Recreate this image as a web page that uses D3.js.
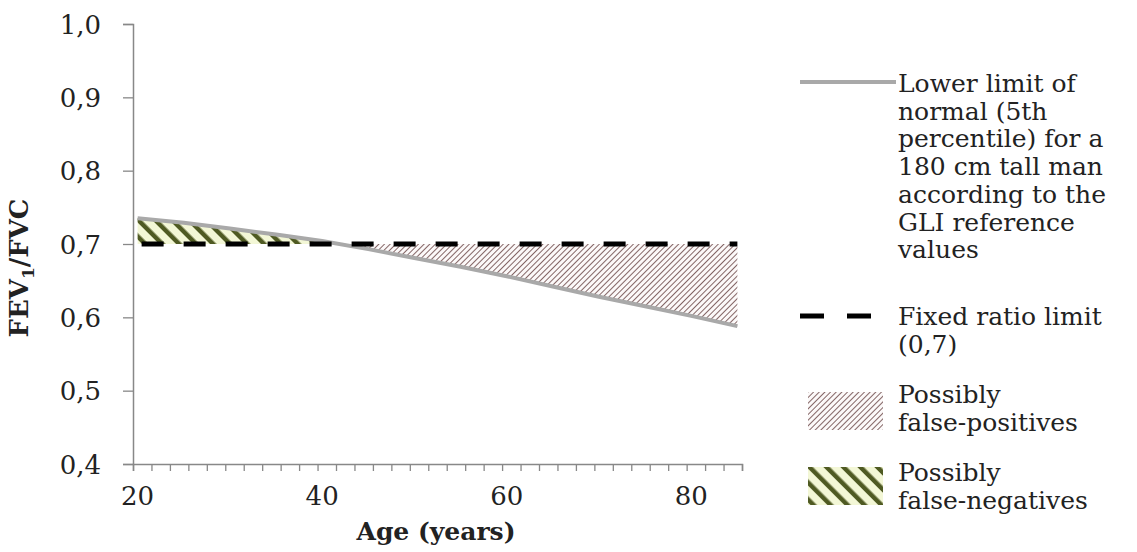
<!DOCTYPE html>
<html>
<head>
<meta charset="utf-8">
<script src="https://cdn.jsdelivr.net/npm/d3@7"></script>
<style>
  body { margin: 0; background: #fff; }
  text { font-family: Georgia, "DejaVu Serif", serif; fill: #222; }
</style>
</head>
<body>
<div id="chart"></div>
<script>
// ages (years) and lower limit of normal FEV1/FVC
var ages = [20, 25, 30, 35, 40, 45, 50, 55, 60, 65, 70, 75, 80, 85];
var lln = [0.735, 0.729, 0.721, 0.713, 0.704, 0.693, 0.681, 0.669, 0.656, 0.642, 0.628, 0.615, 0.602, 0.588];
var fixedRatio = 0.7;
var yTicks = [0.4, 0.5, 0.6, 0.7, 0.8, 0.9, 1.0];
var xLabels = [20, 40, 60, 80];
var legendLine = ["Lower limit of", "normal (5th", "percentile) for a", "180 cm tall man", "according to the", "GLI reference", "values"];
var legendDash = ["Fixed ratio limit", "(0,7)"];
var legendPos = ["Possibly", "false-positives"];
var legendNeg = ["Possibly", "false-negatives"];

var width = 1137, height = 552;

var svg = d3.select("#chart")
  .append("svg")
  .attr("width", width)
  .attr("height", height);

var x = d3.scaleLinear().domain([19.5, 85.5]).range([133, 742]);
var y = d3.scaleLinear().domain([0.4, 1.0]).range([464, 24]);

var defs = svg.append("defs");

// red thin hatch for false-positives
var redPat = defs.append("pattern")
  .attr("id", "hatchRed")
  .attr("patternUnits", "userSpaceOnUse")
  .attr("width", 4)
  .attr("height", 4)
  .attr("patternTransform", "rotate(45)");
redPat.append("rect").attr("width", 4).attr("height", 4).attr("fill", "#fcf9f9");
redPat.append("line")
  .attr("x1", 0).attr("y1", 0).attr("x2", 0).attr("y2", 4)
  .attr("stroke", "#6e4b4b")
  .attr("stroke-width", 1.7);

// olive wide hatch for false-negatives
var greenPat = defs.append("pattern")
  .attr("id", "hatchGreen")
  .attr("patternUnits", "userSpaceOnUse")
  .attr("width", 12)
  .attr("height", 12)
  .attr("patternTransform", "rotate(-45)");
greenPat.append("rect").attr("width", 12).attr("height", 12).attr("fill", "#f3f7d6");
greenPat.append("rect")
  .attr("x", 0).attr("y", 0).attr("width", 4.5).attr("height", 12)
  .attr("fill", "#4f5a22");

var yLimit = y(fixedRatio);

defs.append("clipPath").attr("id", "above")
  .append("rect").attr("x", 0).attr("y", 0).attr("width", width).attr("height", yLimit);
defs.append("clipPath").attr("id", "below")
  .append("rect").attr("x", 0).attr("y", yLimit).attr("width", width).attr("height", height);

var pts = ages.map(function (a, i) { return { age: a, v: lln[i] }; });

var area = d3.area()
  .x(function (d) { return x(d.age); })
  .y0(yLimit)
  .y1(function (d) { return y(d.v); });

svg.append("path")
  .datum(pts)
  .attr("d", area)
  .attr("fill", "url(#hatchGreen)")
  .attr("clip-path", "url(#above)");

svg.append("path")
  .datum(pts)
  .attr("d", area)
  .attr("fill", "url(#hatchRed)")
  .attr("clip-path", "url(#below)");

// axes
var yAxis = svg.append("g")
  .attr("transform", "translate(133,0)")
  .call(d3.axisLeft(y)
    .tickValues(yTicks)
    .tickSize(10)
    .tickPadding(22)
    .tickFormat(function (d) { return d3.format(".1f")(d).replace(".", ","); }));

var xTickVals = d3.range(0, 34).map(function (k) { return 19.5 + 2 * k; });
var xAxis = svg.append("g")
  .attr("transform", "translate(0,464)")
  .call(d3.axisBottom(x).tickValues(xTickVals).tickSize(7).tickFormat(""));

svg.selectAll(".domain").attr("stroke", "#888").attr("stroke-width", 1.5);
svg.selectAll(".tick line").attr("stroke", "#888").attr("stroke-width", 1.3);
yAxis.selectAll("text").style("font-size", "26px").attr("fill", "#333").attr("dy", "0.35em");

svg.append("g").selectAll("text")
  .data(xLabels)
  .enter().append("text")
  .attr("x", function (d) { return x(d); })
  .attr("y", 505)
  .attr("text-anchor", "middle")
  .style("font-size", "26px")
  .attr("fill", "#333")
  .text(function (d) { return d; });

// lines
var line = d3.line()
  .x(function (d) { return x(d.age); })
  .y(function (d) { return y(d.v); });

svg.append("path")
  .datum(pts)
  .attr("d", line)
  .attr("fill", "none")
  .attr("stroke", "#a9a9a9")
  .attr("stroke-width", 4);

svg.append("line")
  .attr("x1", x(ages[0]) + 4)
  .attr("x2", x(ages[ages.length - 1]))
  .attr("y1", yLimit)
  .attr("y2", yLimit)
  .attr("stroke", "#000")
  .attr("stroke-width", 5)
  .attr("stroke-dasharray", "22,20");

// axis titles
svg.append("text")
  .attr("x", 436)
  .attr("y", 540)
  .attr("text-anchor", "middle")
  .style("font-size", "25px")
  .style("font-weight", "bold")
  .text("Age (years)");

var yTitle = svg.append("text")
  .attr("transform", "translate(28,268) rotate(-90)")
  .attr("text-anchor", "middle")
  .style("font-size", "26px")
  .style("font-weight", "bold");
yTitle.append("tspan").text("FEV");
yTitle.append("tspan").attr("dy", 6).style("font-size", "17px").text("1");
yTitle.append("tspan").attr("dy", -6).text("/FVC");

// legend
var lx = 898;
var legend = svg.append("g");

function legendText(lines, y0) {
  legend.append("g").selectAll("text")
    .data(lines)
    .enter().append("text")
    .attr("x", lx)
    .attr("y", function (d, i) { return y0 + i * 27.7; })
    .style("font-size", "25px")
    .text(function (d) { return d; });
}

legend.append("line")
  .attr("x1", 800).attr("x2", 896).attr("y1", 82).attr("y2", 82)
  .attr("stroke", "#a9a9a9").attr("stroke-width", 4);
legendText(legendLine, 92);

legend.append("line")
  .attr("x1", 800).attr("x2", 872).attr("y1", 316).attr("y2", 316)
  .attr("stroke", "#000").attr("stroke-width", 5)
  .attr("stroke-dasharray", "24,23");
legendText(legendDash, 325);

legend.append("rect")
  .attr("x", 808).attr("y", 392).attr("width", 75).attr("height", 38)
  .attr("fill", "url(#hatchRed)");
legendText(legendPos, 403);

legend.append("rect")
  .attr("x", 808).attr("y", 467).attr("width", 75).attr("height", 38)
  .attr("fill", "url(#hatchGreen)");
legendText(legendNeg, 481);
</script>
</body>
</html>
